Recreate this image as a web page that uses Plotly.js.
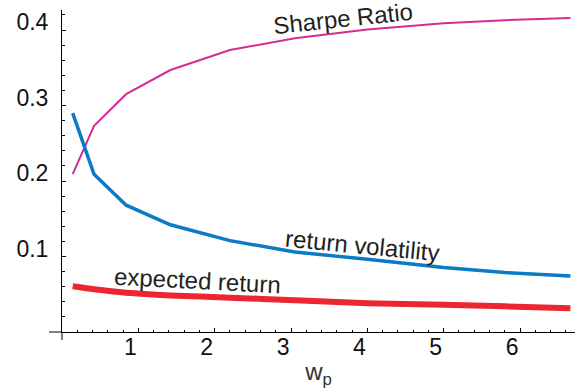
<!DOCTYPE html>
<html>
<head>
<meta charset="utf-8">
<script src="https://cdn.plot.ly/plotly-3.0.1.min.js"></script>
<style>
  html, body { margin: 0; padding: 0; background: #ffffff; }
  #chart { width: 575px; height: 392px; }
</style>
</head>
<body>
<div id="chart"></div>
<script>
// Portfolio weight w_p at which each quantity is evaluated
const wp = [0.14, 0.42, 0.84, 1.42, 2.2, 3.05, 4.0, 5.0, 5.8, 6.66];

// Sharpe ratio, return volatility and expected return along w_p
const sharpeRatio      = [0.209, 0.273, 0.315, 0.347, 0.3735, 0.389, 0.4006, 0.409, 0.413, 0.416];
const returnVolatility = [0.29, 0.209, 0.168, 0.142, 0.121, 0.106, 0.0963, 0.0854, 0.0788, 0.0742];
const expectedReturn   = [0.0605, 0.0565, 0.052, 0.0485, 0.0455, 0.042, 0.038, 0.036, 0.034, 0.0314];

// Axis tick values and labels
const xTickVals = [1, 2, 3, 4, 5, 6];
const xTickText = ['1', '2', '3', '4', '5', '6'];
const yTickVals = [0.1, 0.2, 0.3, 0.4];
const yTickText = ['0.1', '0.2', '0.3', '0.4'];

const FONT = 'Liberation Sans, Arial, Helvetica, sans-serif';
const INK = '#231f20';

const traces = [
  {
    x: wp, y: sharpeRatio, type: 'scatter', mode: 'lines',
    line: { color: '#d42c93', width: 2 }, hoverinfo: 'skip'
  },
  {
    x: wp, y: returnVolatility, type: 'scatter', mode: 'lines',
    line: { color: '#0a7bc4', width: 3.5 }, hoverinfo: 'skip'
  },
  {
    x: wp, y: expectedReturn, type: 'scatter', mode: 'lines',
    line: { color: '#ec2631', width: 6, shape: 'spline', smoothing: 0.6 },
    hoverinfo: 'skip'
  }
];

const layout = {
  width: 575,
  height: 392,
  margin: { l: 62, r: 0, t: 10, b: 60 },
  paper_bgcolor: '#ffffff',
  plot_bgcolor: '#ffffff',
  showlegend: false,
  font: { family: FONT, color: INK, size: 23 },
  xaxis: {
    range: [0, 6.72],
    showline: true, linecolor: '#000000', linewidth: 1,
    showgrid: false, zeroline: false,
    tickmode: 'array', tickvals: xTickVals, ticktext: xTickText,
    ticks: 'inside', ticklen: 4, tickcolor: '#000000', tickwidth: 1,
    minor: { dtick: 0.2, tick0: 0, ticks: 'inside', ticklen: 2, tickcolor: '#000000', showgrid: false },
    tickfont: { family: FONT, size: 23, color: '#111111' },
    ticklabelshift: -8,
    ticklabelstandoff: -6,
    title: { text: 'w<sub>p</sub>', font: { family: FONT, size: 24, color: '#333333' }, standoff: 4 }
  },
  yaxis: {
    range: [0, 0.4265],
    showline: true, linecolor: '#000000', linewidth: 1,
    showgrid: false, zeroline: false,
    tickmode: 'array', tickvals: yTickVals, ticktext: yTickText,
    ticks: 'inside', ticklen: 4, tickcolor: '#000000', tickwidth: 1,
    minor: { dtick: 0.02, tick0: 0, ticks: 'inside', ticklen: 3, tickcolor: '#000000', showgrid: false },
    tickfont: { family: FONT, size: 23, color: '#111111' },
    ticklabelshift: -8,
    ticklabelstandoff: 8
  },
  shapes: [
    // short overhangs where the two axes cross at the origin
    { type: 'line', xref: 'paper', yref: 'paper', x0: -0.0253, x1: 0, y0: 0, y1: 0,
      line: { color: '#000000', width: 1 } },
    { type: 'line', xref: 'paper', yref: 'paper', x0: 0, x1: 0, y0: -0.0248, y1: 0,
      line: { color: '#000000', width: 1 } }
  ],
  annotations: [
    { text: 'Sharpe Ratio', x: 3.68, y: 0.4146, xref: 'x', yref: 'y', showarrow: false,
      textangle: -6, font: { family: FONT, size: 24, color: INK } },
    { text: 'return volatility', x: 3.94, y: 0.114, xref: 'x', yref: 'y', showarrow: false,
      textangle: 5.5, font: { family: FONT, size: 24, color: INK } },
    { text: 'expected return', x: 1.77, y: 0.0676, xref: 'x', yref: 'y', showarrow: false,
      textangle: 3, font: { family: FONT, size: 24, color: INK } }
  ]
};

Plotly.newPlot('chart', traces, layout, { staticPlot: true, displayModeBar: false });
</script>
</body>
</html>
